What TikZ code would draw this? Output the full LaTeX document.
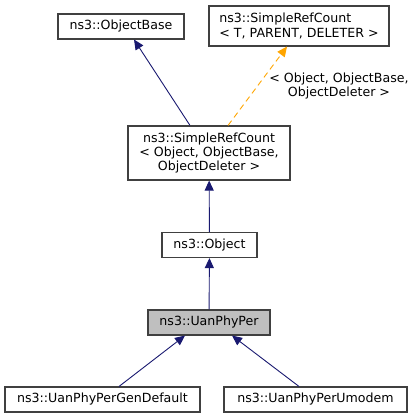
\documentclass[tikz,border=0pt]{standalone}
\usepackage{fontspec}
\setmainfont{DejaVu Sans}
\usepackage{xcolor}
\usepackage{tikz}
\usetikzlibrary{arrows.meta,positioning}

\definecolor{edgeblue}{HTML}{191970}
\definecolor{edgeorange}{HTML}{FFA500}
\definecolor{boxline}{HTML}{404040}

\begin{document}
\begin{tikzpicture}[
    x=1pt,
    y=-1pt,
    font=\fontsize{12.6}{14.3}\selectfont,
    class/.style={
        rectangle,
        draw=boxline,
        line width=1.1pt,
        fill=white,
        inner sep=0pt,
        minimum height=25pt
    },
    arrow/.style={
        draw=edgeblue,
        line width=0.9pt,
        -{Triangle[length=10pt,width=9pt]},
        color=edgeblue
    },
    tmpl_arrow/.style={
        draw=edgeorange,
        line width=0.9pt,
        dashed,
        dash pattern=on 6pt off 4pt,
        -{Triangle[length=10pt,width=9pt]},
        color=edgeorange
    }
]
\useasboundingbox (0,0) rectangle (416,419);

% Basisklassen
\node[class, minimum width=126pt] (objectbase) at (121,26.5) {ns3::ObjectBase};
\node[class, minimum width=180pt, minimum height=40pt, align=left] (refcount) at (299,26) {
    ns3::SimpleRefCount\\
    < T, PARENT, DELETER >
};

% Template-Instanz
\node[class, minimum width=162pt, minimum height=54pt, align=center] (refcountobj) at (209,153) {
    ns3::SimpleRefCount\\
    < Object, ObjectBase,\\
    ObjectDeleter >
};

\node[class, minimum width=95pt] (object) at (209.5,245) {ns3::Object};

% Die dokumentierte Klasse
\node[class, minimum width=122pt, fill=black!25] (uanphyper) at (209,322.5) {ns3::UanPhyPer};

% Abgeleitete Klassen
\node[class, minimum width=195pt] (gendefault) at (102.5,399.5) {ns3::UanPhyPerGenDefault};
\node[class, minimum width=183pt] (umodem) at (315.5,399.5) {ns3::UanPhyPerUmodem};

% Vererbung
\draw[arrow] (refcountobj.north -| 190,0) -- (objectbase.south -| 134,0);
\draw[tmpl_arrow] (refcountobj.north -| 228,0) -- node[right=8pt, align=center, text=black] (tmpl) {< Object, ObjectBase,\\ObjectDeleter >} (refcount.south -| 287,0);
\draw[arrow] (object) -- (refcountobj);
\draw[arrow] (uanphyper) -- (object);
\draw[arrow] (gendefault.north -| 119,0) -- (uanphyper.south -| 185,0);
\draw[arrow] (umodem.north -| 299,0) -- (uanphyper.south -| 232,0);

\end{tikzpicture}
\end{document}
